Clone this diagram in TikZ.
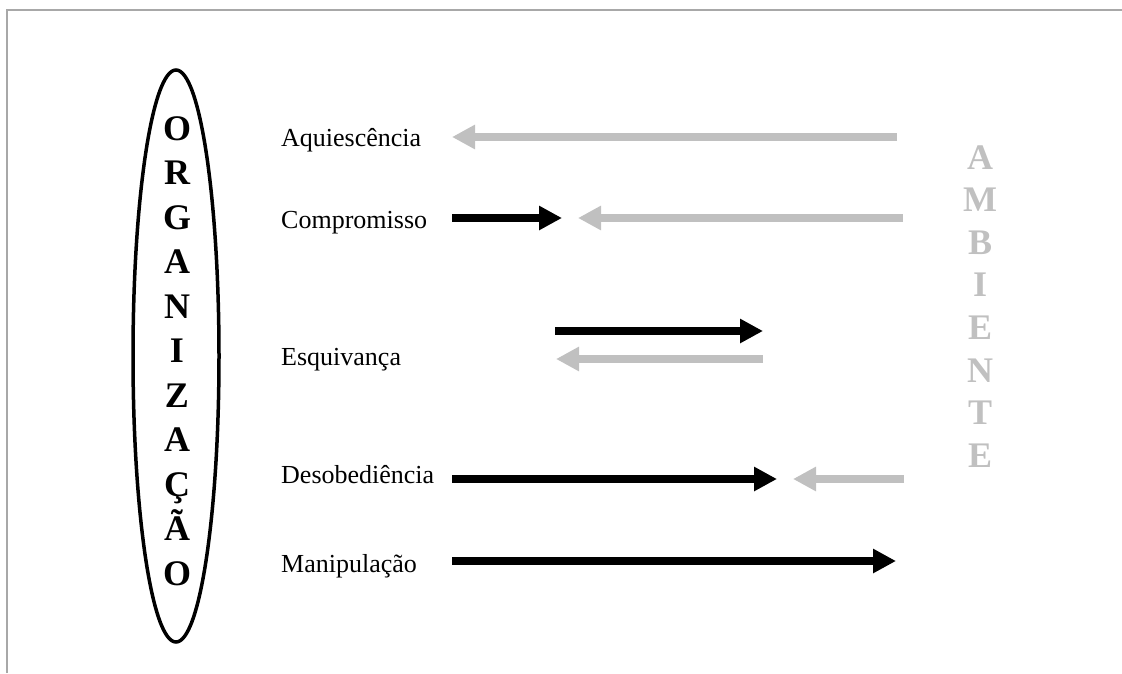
\documentclass[tikz,border=0pt]{standalone}
\usepackage{fontspec}
\setmainfont{Liberation Serif}
\usetikzlibrary{arrows.meta}
\definecolor{lgray}{HTML}{C0C0C0}
\definecolor{fgray}{HTML}{A8A8A8}
\tikzset{
  biglet/.style={font=\fontsize{36}{36}\selectfont\bfseries, inner sep=0pt, anchor=base},
  lbl/.style={font=\fontsize{26}{26}\selectfont, inner sep=0pt, anchor=base west},
  darr/.style={line width=7.5pt, black, -{Triangle[length=23pt,width=23pt]}},
  garr/.style={line width=7.5pt, lgray, -{Triangle[length=23pt,width=23pt]}},
}
\begin{document}
\begin{tikzpicture}[x=1pt,y=-1pt]
\useasboundingbox (0,0) rectangle (1122,673);
% frame
\draw[fgray, line width=2pt] (7,673) -- (7,10) -- (1122,10);
% ellipse
\draw[line width=3.5pt] (176,356) ellipse [x radius=43, y radius=286];
\node[draw=none, minimum size=0pt, inner sep=0pt] (org) at (176,356) {};
\foreach \l [count=\i from 0] in {O,R,G,A,N,I,Z,A,Ç,Ã,O}
  \node[biglet] (o\i) at (177,{140+44.5*\i}) {\l};
\foreach \l [count=\i from 0] in {A,M,B,I,E,N,T,E}
  \node[biglet, text=lgray] (a\i) at (980,{169+42.6*\i}) {\l};
% labels
\node[lbl] (l1) at (281,146) {Aquiescência};
\node[lbl] (l2) at (281,228) {Compromisso};
\node[lbl] (l3) at (281,365) {Esquivança};
\node[lbl] (l4) at (281,483) {Desobediência};
\node[lbl] (l5) at (281,572) {Manipulação};
% arrow end points
\coordinate (a1s) at (897,137); \coordinate (a1e) at (452,137);
\coordinate (b1s) at (452,218); \coordinate (b1e) at (562,218);
\coordinate (b2s) at (903,218); \coordinate (b2e) at (578,218);
\coordinate (c1s) at (555,331); \coordinate (c1e) at (763,331);
\coordinate (c2s) at (763,359); \coordinate (c2e) at (556,359);
\coordinate (d1s) at (452,479); \coordinate (d1e) at (777,479);
\coordinate (d2s) at (904,479); \coordinate (d2e) at (793,479);
\coordinate (e1s) at (452,561); \coordinate (e1e) at (896,561);
\draw[garr] (a1s) -- (a1e);
\draw[darr] (b1s) -- (b1e);
\draw[garr] (b2s) -- (b2e);
\draw[darr] (c1s) -- (c1e);
\draw[garr] (c2s) -- (c2e);
\draw[darr] (d1s) -- (d1e);
\draw[garr] (d2s) -- (d2e);
\draw[darr] (e1s) -- (e1e);
\end{tikzpicture}
\end{document}
